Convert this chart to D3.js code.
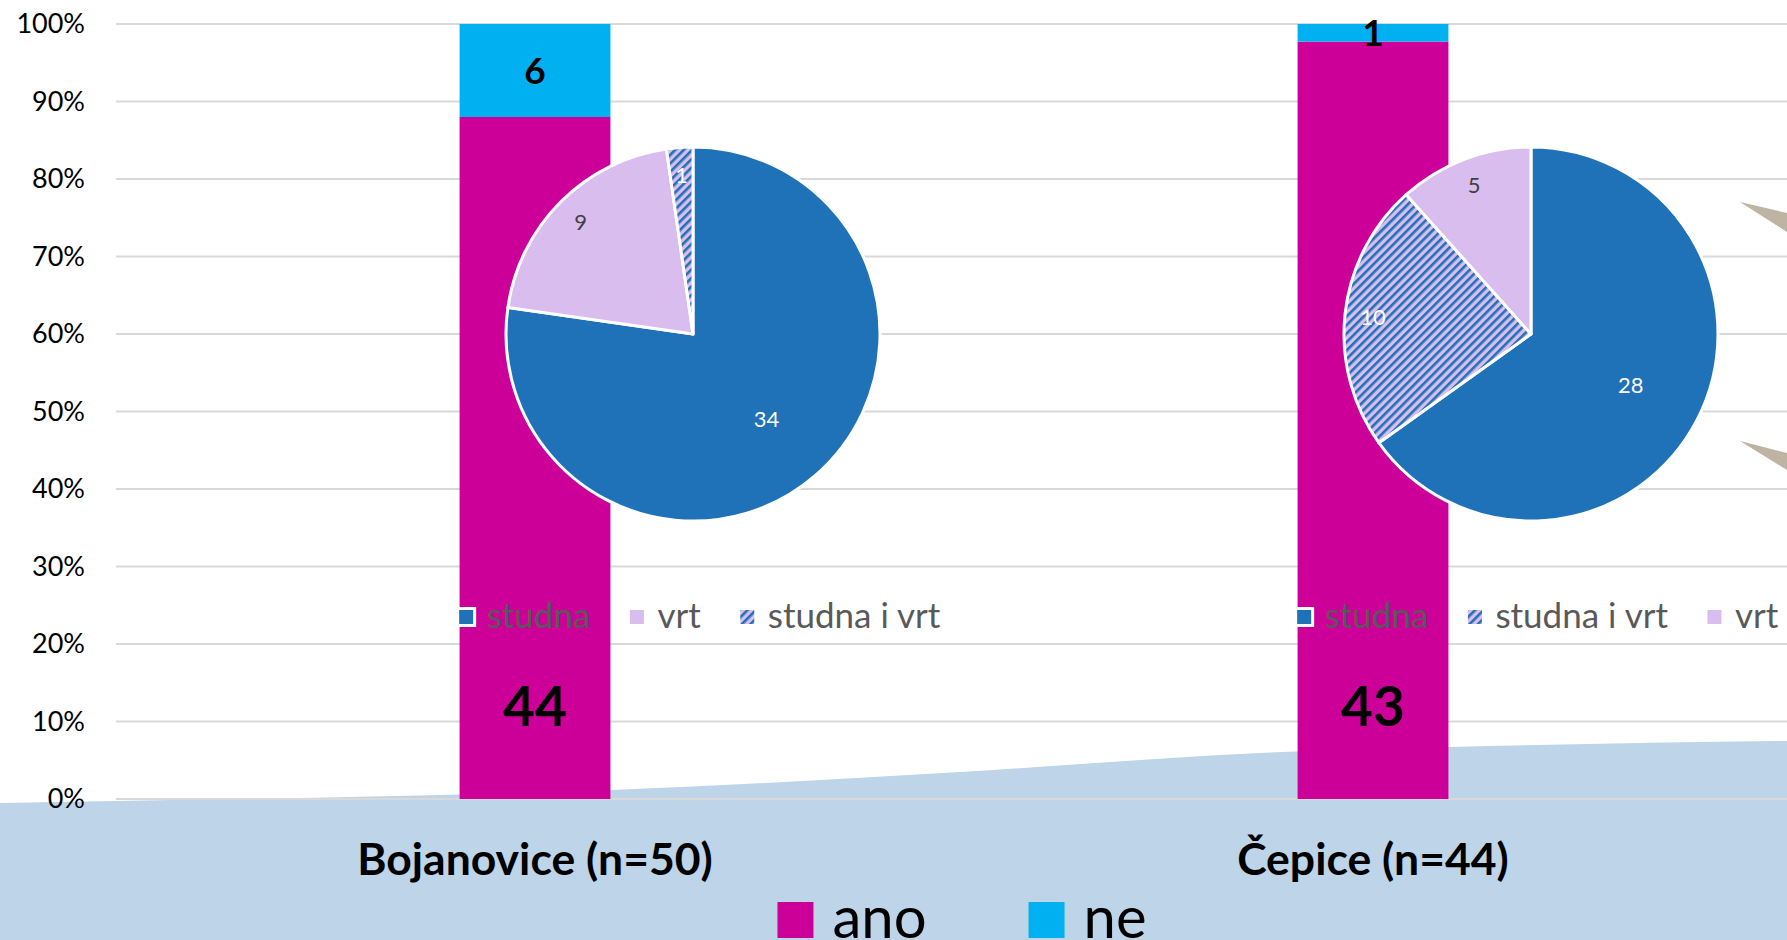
<!DOCTYPE html>
<html>
<head>
<meta charset="utf-8">
<script src="https://cdn.jsdelivr.net/npm/d3@7"></script>
<style>
  body { margin:0; background:#fff; }
  svg { display:block; font-family: Lato, "Open Sans", sans-serif; }
</style>
</head>
<body>
<div id="chart"></div>
<script>
// data
var categories = ["Bojanovice (n=50)", "Čepice (n=44)"];
var anoValues = [44, 43];
var neValues = [6, 1];
var seriesNames = ["ano", "ne"];
var yTicks = [0, 0.1, 0.2, 0.3, 0.4, 0.5, 0.6, 0.7, 0.8, 0.9, 1];

var pieNames = [["studna", "vrt", "studna i vrt"], ["studna", "studna i vrt", "vrt"]];
var pieValues = [[34, 9, 1], [28, 10, 5]];

// decorative backdrop edge (slide background)
var bandEdge = [[0,803],[116,801],[350,797],[611,790],[960,772],[1260,753],[1450,747],[1787,741]];

var W = 1787, H = 940;
var colors = { ano:"#CC0099", ne:"#00B0F0", "studna":"#1F71B8", "vrt":"#D9BDEE", "studna i vrt":"url(#hatch)" };
var labelColors = { "studna":"#fff", "vrt":"#404040", "studna i vrt":"#fff" };

var svg = d3.select("#chart").append("svg").attr("width", W).attr("height", H);

var defs = svg.append("defs");
var pat = defs.append("pattern").attr("id","hatch").attr("patternUnits","userSpaceOnUse")
    .attr("width",6).attr("height",6).attr("patternTransform","rotate(45)");
pat.append("rect").attr("width",6).attr("height",6).attr("fill","#D9BDEE");
pat.append("rect").attr("width",2.6).attr("height",6).attr("fill","#1F71B8");

// background band
svg.append("path")
    .attr("d", d3.area().x(function(d){return d[0];}).y0(H).y1(function(d){return d[1];})
        .curve(d3.curveMonotoneX)(bandEdge))
    .attr("fill","#BDD4E9");

// decorative wedges on right edge
svg.append("path").attr("d","M1740,202L1787,213L1787,232Z").attr("fill","#BFB4A3");
svg.append("path").attr("d","M1740,441L1787,453L1787,470Z").attr("fill","#BFB4A3");

var x = d3.scaleBand().domain(categories).range([116, 1792]).paddingInner(0.82).paddingOuter(0.41);
var y = d3.scaleLinear().domain([0, 1]).range([799, 24]);

// gridlines
svg.append("g").selectAll("line").data(yTicks).enter().append("line")
    .attr("x1",116).attr("x2",W)
    .attr("y1",function(d){return y(d);}).attr("y2",function(d){return y(d);})
    .attr("stroke","#D9D9D9").attr("stroke-width",2);

// y axis labels
var yAxis = d3.axisLeft(y).tickValues(yTicks).tickFormat(d3.format(".0%")).tickSize(0).tickPadding(31);
var gy = svg.append("g").attr("transform","translate(116,0)").call(yAxis);
gy.select(".domain").remove();
gy.selectAll("text").attr("font-family","Lato").attr("font-size","27px").attr("fill","#000");

// stacked bars
var stackData = categories.map(function(c,i){
    var tot = anoValues[i] + neValues[i];
    return { cat:c, ano:anoValues[i]/tot, ne:neValues[i]/tot, anoN:anoValues[i], neN:neValues[i] };
});
var stacked = d3.stack().keys(seriesNames)(stackData);

var bars = svg.append("g");
stacked.forEach(function(s){
    bars.selectAll("rect."+s.key).data(s).enter().append("rect")
        .attr("class", s.key)
        .attr("x", function(d){return x(d.data.cat);})
        .attr("width", x.bandwidth())
        .attr("y", function(d){return y(d[1]);})
        .attr("height", function(d){return y(d[0]) - y(d[1]);})
        .attr("fill", colors[s.key]);
});

// bar value labels
bars.selectAll("text.ne").data(stacked[1]).enter().append("text")
    .attr("x", function(d){return x(d.data.cat) + x.bandwidth()/2;})
    .attr("y", function(d){return (y(d[0]) + y(d[1]))/2;})
    .attr("dy","0.36em").attr("text-anchor","middle")
    .attr("font-size","37px").attr("font-weight","bold").attr("fill","#000")
    .text(function(d){return d.data.neN;});
bars.selectAll("text.ano").data(stacked[0]).enter().append("text")
    .attr("x", function(d){return x(d.data.cat) + x.bandwidth()/2;})
    .attr("y", y(0.12))
    .attr("dy","0.36em").attr("text-anchor","middle")
    .attr("font-size","55px").attr("font-weight","bold").attr("fill","#000")
    .text(function(d){return d.data.anoN;});

// pies
var R = 187;
var pie = d3.pie().sort(null).value(function(d){return d.v;});
var arc = d3.arc().innerRadius(0).outerRadius(R);

categories.forEach(function(c, i){
    var cx = x(c) + x.bandwidth()/2 + 158, cy = y(0.6);
    var items = pieNames[i].map(function(n,j){return {name:n, v:pieValues[i][j]};});
    var total = d3.sum(items, function(d){return d.v;});
    var g = svg.append("g").attr("transform","translate("+cx+","+cy+")");
    var arcs = pie(items);
    g.selectAll("path").data(arcs).enter().append("path")
        .attr("d", arc)
        .attr("fill", function(d){return colors[d.data.name];})
        .attr("stroke","#fff").attr("stroke-width",3).attr("stroke-linejoin","round");
    g.selectAll("text").data(arcs).enter().append("text")
        .attr("transform", function(d){
            var lr = d.data.v/total > 0.5 ? 0.6*R : 0.85*R;
            var p = d3.arc().innerRadius(lr).outerRadius(lr).centroid(d);
            return "translate("+p[0]+","+p[1]+")";
        })
        .attr("dy","0.36em").attr("text-anchor","middle")
        .attr("font-size","22px").attr("fill", function(d){return labelColors[d.data.name];})
        .text(function(d){return d.data.v;});

    // pie legend
    var lg = svg.append("g");
    var ly = 617, pos = 0;
    var entries = lg.selectAll("g").data(items).enter().append("g");
    entries.append("rect").attr("width",17).attr("height",17).attr("y",-8.5)
        .attr("fill", function(d){return colors[d.name];})
        .attr("stroke","#fff").attr("stroke-width",3);
    entries.append("text").attr("x",29).attr("y",11)
        .attr("font-size","35px").attr("fill","#595959")
        .text(function(d){return d.name;});
    entries.each(function(){
        var e = d3.select(this);
        e.attr("transform","translate("+pos+",0)");
        pos += 29 + e.select("text").node().getComputedTextLength() + 38;
    });
    pos -= 38;
    lg.attr("transform","translate("+(cx + 6 - pos/2)+","+ly+")");
});

// category labels
svg.append("g").selectAll("text").data(categories).enter().append("text")
    .attr("x", function(d){return x(d) + x.bandwidth()/2;})
    .attr("y", 875).attr("text-anchor","middle")
    .attr("font-size","44.5px").attr("font-weight","bold").attr("fill","#000")
    .text(function(d){return d;});

// bottom legend
var leg = svg.append("g");
var lpos = 0;
var lent = leg.selectAll("g").data(seriesNames).enter().append("g");
lent.append("rect").attr("width",36).attr("height",36).attr("y",-36)
    .attr("fill", function(d){return colors[d];});
lent.append("text").attr("x",55).attr("y",0)
    .attr("font-size","58px").attr("fill","#000")
    .text(function(d){return d;});
lent.each(function(){
    var e = d3.select(this);
    e.attr("transform","translate("+lpos+",0)");
    lpos += 55 + e.select("text").node().getComputedTextLength() + 102;
});
lpos -= 102;
leg.attr("transform","translate("+(962 - lpos/2)+",938)");
</script>
</body>
</html>
